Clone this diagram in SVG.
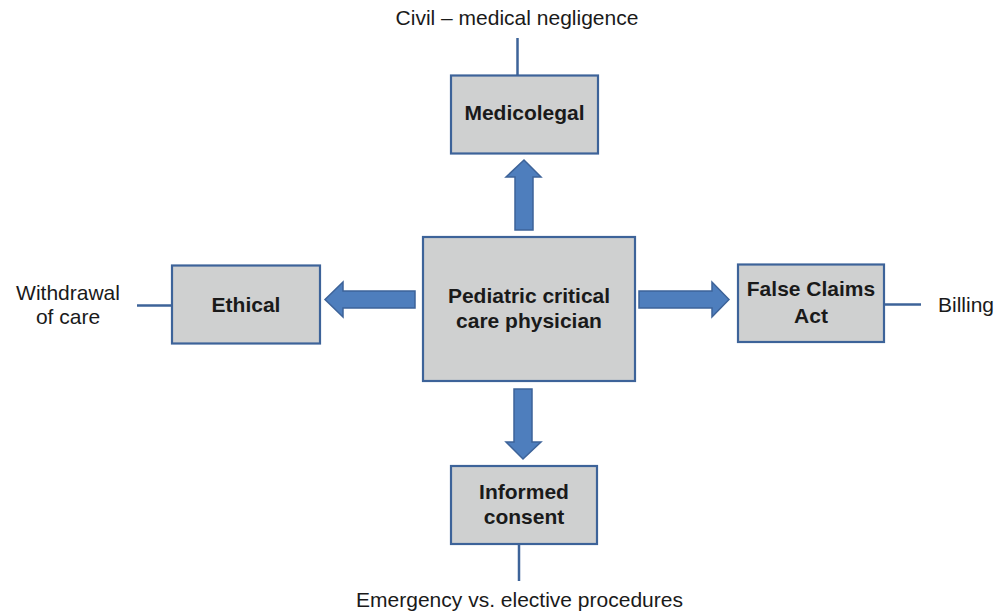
<svg xmlns="http://www.w3.org/2000/svg" width="1006" height="613" viewBox="0 0 1006 613">
<style>
.box{fill:#cfd0d0;stroke:#3d6399;stroke-width:2.2}
.arrow{fill:#4e7ebd;stroke:#3d6399;stroke-width:1.5;stroke-linejoin:miter}
.line{stroke:#3d6399;stroke-width:2.5;fill:none}
.lbl{font-family:"Liberation Sans",Arial,sans-serif;font-size:21px;font-weight:bold;fill:#1a1a1a;text-anchor:middle}
.note{font-family:"Liberation Sans",Arial,sans-serif;font-size:21px;fill:#1a1a1a;text-anchor:middle}
</style>
<rect width="1006" height="613" fill="#ffffff"/>
<g id="connectors">
<polygon class="arrow" points="524,160 541,177 533,177 533,230 515,230 515,177 506,177"/>
<polygon class="arrow" points="325,299.5 343,282 343,291 415,291 415,308 343,308 343,317"/>
<polygon class="arrow" points="729,299.5 712,282 712,291 639,291 639,308 712,308 712,317"/>
<polygon class="arrow" points="523,459 541,442 532,442 532,389 514,389 514,442 506,442"/>
<line class="line" x1="517.5" y1="38" x2="517.5" y2="75"/>
<line class="line" x1="137" y1="305.5" x2="172" y2="305.5"/>
<line class="line" x1="884" y1="304.5" x2="921" y2="304.5"/>
<line class="line" x1="519" y1="544" x2="519" y2="581"/>
</g>
<g id="center">
<rect class="box" x="423" y="237" width="212" height="144"/>
<text class="lbl" x="529" y="303">Pediatric critical</text>
<text class="lbl" x="529" y="328">care physician</text>
</g>
<g id="medicolegal">
<rect class="box" x="451" y="75.5" width="147" height="78"/>
<text class="lbl" x="524.5" y="120">Medicolegal</text>
</g>
<g id="ethical">
<rect class="box" x="172" y="265.5" width="148" height="78"/>
<text class="lbl" x="246" y="312">Ethical</text>
</g>
<g id="falseclaims">
<rect class="box" x="738" y="264.5" width="146" height="77.5"/>
<text class="lbl" x="811" y="296">False Claims</text>
<text class="lbl" x="811" y="322.5">Act</text>
</g>
<g id="informed">
<rect class="box" x="451" y="466" width="146" height="78"/>
<text class="lbl" x="524" y="499">Informed</text>
<text class="lbl" x="524" y="524">consent</text>
</g>
<g id="civil">
<text class="note" x="517" y="25">Civil – medical negligence</text>
</g>
<g id="withdrawal">
<text class="note" x="68" y="300">Withdrawal</text>
<text class="note" x="68" y="324">of care</text>
</g>
<g id="billing">
<text class="note" x="966" y="312">Billing</text>
</g>
<g id="emergency">
<text class="note" x="519.5" y="607">Emergency vs. elective procedures</text>
</g>
</svg>
